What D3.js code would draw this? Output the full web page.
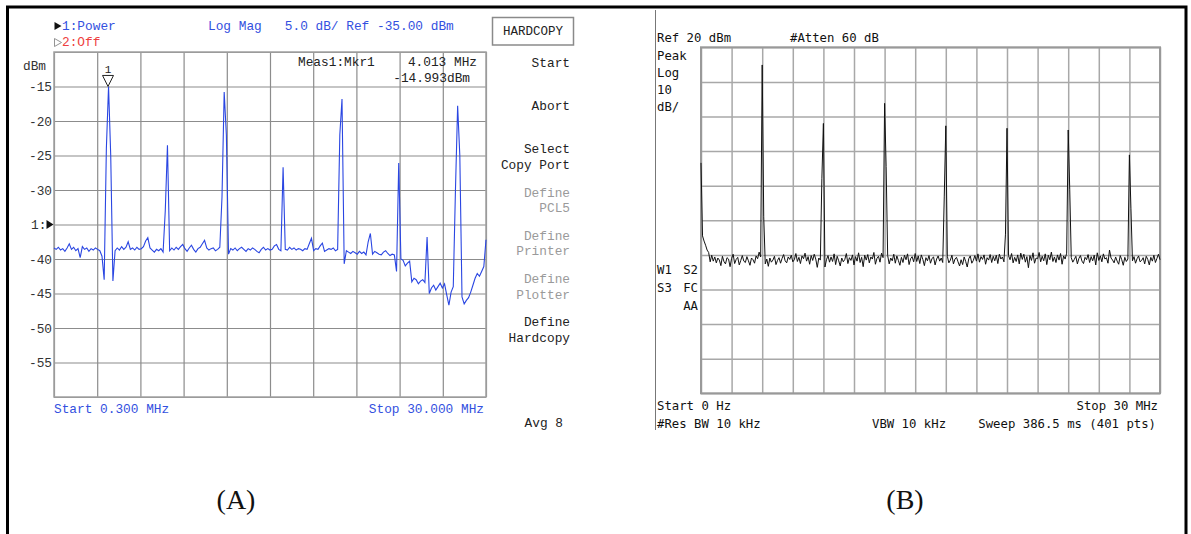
<!DOCTYPE html>
<html>
<head>
<meta charset="utf-8">
<script src="https://cdn.jsdelivr.net/npm/d3@7"></script>
<style>
  body { margin: 0; background: #fff; }
  svg { display: block; }
</style>
</head>
<body>
<div id="chart"></div>
<script>
// ---- panel A: network analyzer, 0.3 - 30 MHz, 0.15 MHz per point
const aStart = 0.3, aStop = 30, aStep = 0.15;
const aTrace = [
  -38.4, -38.6, -38.3, -38.7, -38.5, -38.9, -38.4, -37.8, -38.6, -38.3,
  -38.8, -38.5, -39.8, -38.2, -38.6, -38.4, -38.9, -38.5, -38.7, -38.4,
  -38.6, -38.8, -39.6, -43.0, -24.0, -15.0, -25.0, -43.2, -38.8, -38.4,
  -38.7, -38.2, -38.6, -38.3, -37.5, -38.6, -38.4, -38.7, -38.3, -38.6,
  -38.5, -38.2, -37.4, -36.9, -38.4, -38.7, -39.0, -38.6, -38.8, -38.5,
  -39.0, -33.0, -23.5, -38.8, -38.4, -38.7, -38.3, -38.6, -38.2, -37.9,
  -38.5, -38.9, -38.4, -38.0, -38.6, -39.0, -38.5, -38.3, -37.8, -37.3,
  -38.4, -38.7, -38.5, -38.4, -38.8, -38.6, -38.3, -31.0, -15.8, -22.0,
  -39.3, -38.5, -38.7, -38.4, -38.8, -38.5, -38.3, -38.6, -38.9, -38.5,
  -38.7, -38.4, -38.6, -38.9, -39.1, -38.6, -38.3, -38.7, -38.5, -38.7,
  -38.6, -38.1, -37.9, -38.6, -38.8, -26.7, -38.6, -38.7, -38.3, -38.6,
  -38.4, -38.7, -38.5, -38.6, -38.8, -38.5, -38.6, -37.8, -37.0, -38.8,
  -38.5, -38.6, -38.1, -37.7, -38.9, -38.7, -38.5, -38.6, -38.4, -38.8,
  -38.6, -22.0, -16.8, -40.7, -38.8, -39.0, -39.2, -38.9, -39.1, -39.3,
  -38.9, -39.2, -39.0, -39.4, -37.5, -36.3, -39.3, -38.9, -39.1, -39.3,
  -39.4, -39.0, -38.8, -39.2, -39.5, -39.3, -39.4, -41.8, -26.1, -40.0,
  -40.2, -41.0, -40.6, -40.3, -43.3, -42.8, -43.0, -43.6, -43.2, -43.0,
  -43.4, -36.8, -45.0, -44.2, -43.8, -44.5, -44.0, -43.5, -44.2, -43.6,
  -45.2, -46.7, -44.8, -44.0, -30.0, -17.8, -25.0, -45.5, -46.5, -46.0,
  -45.6, -44.8, -43.8, -42.8, -42.1, -42.5, -41.8, -41.1, -37.2
];
const aYTicks = [-15, -20, -25, -30, -35, -40, -45, -50, -55];
const aRefLevel = -35;
const aMarkerFreq = 4.013, aMarkerLevel = -14.993;
const aSoftkeys = [["Start"], ["Abort"], ["Select", "Copy Port"], ["Define", "PCL5"],
                   ["Define", "Printer"], ["Define", "Plotter"], ["Define", "Hardcopy"]];
const aSoftkeyOn = [true, true, true, false, false, false, true];

// ---- panel B: spectrum analyzer, 0 - 30 MHz, 0.1 MHz per point
const bStart = 0, bStop = 30, bStep = 0.1;
const bTrace = [
  -13.4, -34.5, -36.0, -37.2, -38.6, -39.3, -42.0, -40.1, -41.8, -40.6,
  -42.3, -40.9, -41.5, -43.1, -40.4, -41.9, -42.6, -40.8, -41.2, -43.4,
  -41.0, -39.8, -42.5, -41.3, -40.7, -42.9, -41.6, -40.2, -41.8, -42.2,
  -40.5, -41.7, -43.0, -40.9, -41.4, -42.4, -40.3, -41.1, -39.2, -40.6,
   14.9, -29.0, -42.6, -41.2, -43.3, -40.9, -42.1, -41.5, -40.4, -42.8,
  -41.6, -40.8, -42.4, -41.0, -39.9, -41.7, -42.3, -40.6, -41.3, -40.1,
  -42.0, -41.4, -39.6, -41.9, -40.7, -42.5, -40.3, -41.1, -39.5, -41.8,
  -40.5, -42.7, -40.2, -41.6, -39.8, -41.2, -43.6, -40.9, -41.5, -18.0,
   -2.0, -43.5, -41.4, -40.2, -42.1, -40.6, -41.9, -39.7, -42.8, -40.4,
  -41.7, -43.2, -40.9, -42.0, -41.3, -39.6, -42.5, -40.8, -41.6, -40.0,
  -42.9, -40.5, -41.8, -39.4, -42.2, -40.7, -43.4, -40.1, -41.5, -39.9,
  -42.3, -40.6, -41.2, -39.3, -42.7, -41.0, -40.4, -42.1, -39.5, -40.8,
    3.8, -14.5, -40.2, -42.6, -40.9, -41.7, -39.8, -42.4, -40.3, -41.6,
  -43.0, -40.7, -42.2, -40.1, -41.4, -39.7, -42.8, -41.1, -40.5, -42.0,
  -39.6, -41.9, -40.3, -42.5, -40.0, -41.3, -43.1, -40.8, -41.7, -40.2,
  -42.4, -41.0, -40.6, -42.9, -41.2, -40.3, -41.8, -40.9, -42.2, -23.0,
   -2.7, -40.4, -42.3, -41.5, -40.1, -42.6, -41.2, -40.7, -42.0, -43.2,
  -41.4, -42.8, -40.6, -41.9, -43.5, -41.1, -40.3, -42.4, -41.6, -40.2,
  -41.8, -39.7, -42.1, -40.5, -41.3, -40.0, -42.7, -40.8, -41.5, -39.9,
  -42.2, -40.4, -41.7, -40.1, -42.5, -39.8, -41.2, -40.6, -42.0, -34.0,
   -3.4, -40.2, -41.4, -39.6, -42.3, -40.7, -41.9, -40.0, -42.6, -39.5,
  -41.3, -39.8, -42.1, -40.5, -43.7, -40.2, -41.6, -39.4, -42.4, -40.9,
  -41.1, -39.3, -42.0, -40.4, -41.7, -39.7, -42.8, -40.1, -41.4, -39.2,
  -41.9, -40.6, -42.2, -40.0, -41.5, -39.6, -42.7, -40.3, -41.2, -39.5,
   -3.9, -21.0, -40.8, -42.1, -41.3, -40.4, -42.6, -41.0, -40.2, -41.8,
  -42.5, -40.7, -41.4, -39.9, -42.2, -40.5, -41.7, -40.1, -42.9, -39.4,
  -41.6, -40.3, -42.0, -39.7, -41.2, -40.8, -42.4, -38.6, -40.9, -41.5,
  -42.3, -40.6, -41.8, -42.7, -40.2, -41.4, -43.0, -40.7, -41.9, -41.2,
  -11.1, -26.5, -41.7, -40.5, -42.4, -41.1, -40.3, -42.0, -41.6, -40.8,
  -42.6, -40.4, -41.3, -42.9, -40.7, -41.8, -40.1, -42.2, -41.0, -39.8,
  -41.4
];
const bRefLevel = 20, bDbPerDiv = 10;

const W = 1191, H = 534;
const svg = d3.select("#chart").append("svg")
  .attr("width", W).attr("height", H)
  .attr("viewBox", [0, 0, W, H]);

const monoA = "'Liberation Mono', 'DejaVu Sans Mono', monospace";
const monoB = "'DejaVu Sans Mono', monospace";
const blue = "#3350e0", red = "#ee4040";

// outer frame (open at the bottom)
svg.append("path")
  .attr("d", `M7.5,${H} V7 H1186 V${H}`)
  .attr("fill", "none").attr("stroke", "#000").attr("stroke-width", 3);

// ============ panel A ============
const xA = d3.scaleLinear([aStart, aStop], [54, 486]);
const yA = d3.scaleLinear([aRefLevel - 25, aRefLevel + 25], [397, 52]);
let a = svg.append("g");

// grid
a.append("g")
  .attr("transform", `translate(0,${yA.range()[0]})`)
  .call(d3.axisBottom(xA)
    .tickValues(d3.range(11).map(k => aStart + k * (aStop - aStart) / 10))
    .tickSize(-(yA.range()[0] - yA.range()[1])).tickFormat(""))
  .call(g => g.select(".domain").remove())
  .call(g => g.selectAll("line").attr("stroke", "#8c8c8c").attr("stroke-width", 1.2));
a.append("g")
  .attr("transform", `translate(${xA.range()[0]},0)`)
  .call(d3.axisLeft(yA).tickValues(d3.range(-60, -9, 5))
    .tickSize(-(xA.range()[1] - xA.range()[0])).tickFormat(""))
  .call(g => g.select(".domain").remove())
  .call(g => g.selectAll("line").attr("stroke", "#8c8c8c").attr("stroke-width", 1.2));
a.append("rect")
  .attr("x", xA.range()[0]).attr("y", yA.range()[1])
  .attr("width", xA.range()[1] - xA.range()[0]).attr("height", yA.range()[0] - yA.range()[1])
  .attr("fill", "none").attr("stroke", "#a0a0a0").attr("stroke-width", 1.5);

// y labels
a.selectAll("text.ytick")
  .data(aYTicks)
  .join("text")
  .attr("class", "ytick")
  .attr("x", 52).attr("y", d => yA(d) + 4.5)
  .attr("text-anchor", "end")
  .style("font", `12.8px ${monoA}`).attr("fill", "#333")
  .text(d => d === aRefLevel ? "" : d);
a.append("text").attr("x", 23).attr("y", 70)
  .style("font", `12.8px ${monoA}`).attr("fill", "#333").text("dBm");
// reference level pointer "1:>"
a.append("text").attr("x", 31).attr("y", yA(aRefLevel) + 4.5)
  .style("font", `12.8px ${monoA}`).attr("fill", "#333").text("1:");
a.append("path")
  .attr("d", `M46.5,${yA(aRefLevel) - 4.5} L53.5,${yA(aRefLevel)} L46.5,${yA(aRefLevel) + 4.5} Z`)
  .attr("fill", "#111");

// trace
const lineA = d3.line()
  .x((d, i) => xA(aStart + i * aStep))
  .y(d => yA(d));
a.append("path")
  .datum(aTrace)
  .attr("d", lineA)
  .attr("fill", "none").attr("stroke", "#2a46e2").attr("stroke-width", 1.1);

// marker 1
const mx = xA(aMarkerFreq), my = yA(aMarkerLevel);
a.append("path")
  .attr("d", `M${mx - 5.5},${my - 11} H${mx + 5.5} L${mx},${my} Z`)
  .attr("fill", "#fff").attr("stroke", "#222").attr("stroke-width", 1);
a.append("text").attr("x", mx).attr("y", my - 13.5).attr("text-anchor", "middle")
  .style("font", `11px ${monoA}`).attr("fill", "#222").text("1");

// header
a.append("path").attr("d", "M54.5,22 L61.5,26 L54.5,30 Z").attr("fill", "#111");
a.append("text").attr("x", 62).attr("y", 30)
  .style("font", `12.8px ${monoA}`).attr("fill", blue).text("1:Power");
a.append("path").attr("d", "M54.5,38.5 L61.5,42.5 L54.5,46.5 Z")
  .attr("fill", "none").attr("stroke", "#888").attr("stroke-width", 0.9);
a.append("text").attr("x", 62).attr("y", 46)
  .style("font", `12.8px ${monoA}`).attr("fill", red).text("2:Off");
a.append("text").attr("x", 208).attr("y", 30).attr("xml:space", "preserve")
  .style("font", `12.8px ${monoA}`).style("white-space", "pre").attr("fill", blue)
  .text(`Log Mag   5.0 dB/ Ref ${aRefLevel.toFixed(2)} dBm`);

// marker readout
a.append("text").attr("x", 298).attr("y", 66)
  .style("font", `12.8px ${monoA}`).attr("fill", "#222").text("Meas1:Mkr1");
a.append("text").attr("x", 477).attr("y", 66).attr("text-anchor", "end")
  .style("font", `12.8px ${monoA}`).attr("fill", "#222").text(`${aMarkerFreq.toFixed(3)} MHz`);
a.append("text").attr("x", 470).attr("y", 82).attr("text-anchor", "end")
  .style("font", `12.8px ${monoA}`).attr("fill", "#222").text(`${aMarkerLevel.toFixed(3)}dBm`);

// start / stop
a.append("text").attr("x", 54).attr("y", 413)
  .style("font", `12.8px ${monoA}`).attr("fill", blue).text(`Start ${aStart.toFixed(3)} MHz`);
a.append("text").attr("x", 484).attr("y", 413).attr("text-anchor", "end")
  .style("font", `12.8px ${monoA}`).attr("fill", blue).text(`Stop ${aStop.toFixed(3)} MHz`);

// softkey panel
a.append("rect").attr("x", 492.5).attr("y", 17.5).attr("width", 81).attr("height", 27.5)
  .attr("fill", "#fff").attr("stroke", "#8a8a8a").attr("stroke-width", 1.5);
a.append("text").attr("x", 533).attr("y", 35).attr("text-anchor", "middle")
  .style("font", `12.5px ${monoA}`).attr("fill", "#222").text("HARDCOPY");
aSoftkeys.forEach((lines, k) => {
  lines.forEach((t, j) => {
    a.append("text")
      .attr("x", 570).attr("y", 67 + k * 43.2 + j * 15.5)
      .attr("text-anchor", "end")
      .style("font", `12.8px ${monoA}`)
      .attr("fill", aSoftkeyOn[k] ? "#222" : "#9a9a9a")
      .text(t);
  });
});
a.append("text").attr("x", 563).attr("y", 427).attr("text-anchor", "end")
  .style("font", `12.8px ${monoA}`).attr("fill", "#222").text("Avg 8");

// ============ panel B ============
const xB = d3.scaleLinear([bStart, bStop], [701, 1160]);
const yB = d3.scaleLinear([bRefLevel - 10 * bDbPerDiv, bRefLevel], [393.3, 47.3]);
let b = svg.append("g");

b.append("line").attr("x1", 655.5).attr("x2", 655.5).attr("y1", 10).attr("y2", 430)
  .attr("stroke", "#777").attr("stroke-width", 1);

b.append("g")
  .attr("transform", `translate(0,${yB.range()[0]})`)
  .call(d3.axisBottom(xB).ticks(10).tickSize(-(yB.range()[0] - yB.range()[1])).tickFormat(""))
  .call(g => g.select(".domain").remove())
  .call(g => g.selectAll("line").attr("stroke", "#a8a8a8").attr("stroke-width", 1.5));
b.append("g")
  .attr("transform", `translate(${xB.range()[0]},0)`)
  .call(d3.axisLeft(yB).ticks(10).tickSize(-(xB.range()[1] - xB.range()[0])).tickFormat(""))
  .call(g => g.select(".domain").remove())
  .call(g => g.selectAll("line").attr("stroke", "#a8a8a8").attr("stroke-width", 1.5));
b.append("rect")
  .attr("x", xB.range()[0]).attr("y", yB.range()[1])
  .attr("width", xB.range()[1] - xB.range()[0]).attr("height", yB.range()[0] - yB.range()[1])
  .attr("fill", "none").attr("stroke", "#999").attr("stroke-width", 2);

const lineB = d3.line()
  .x((d, i) => xB(bStart + i * bStep))
  .y(d => yB(d));
b.append("path")
  .datum(bTrace)
  .attr("d", lineB)
  .attr("fill", "none").attr("stroke", "#111").attr("stroke-width", 1);

const tB = (x, y, s, anchor) => b.append("text")
  .attr("x", x).attr("y", y).attr("text-anchor", anchor || "start")
  .style("font", `12.3px ${monoB}`).style("white-space", "pre").attr("fill", "#111").text(s);

tB(657, 42, `Ref ${bRefLevel} dBm`);
tB(790, 42, "#Atten 60 dB");
tB(657, 60, "Peak");
tB(657, 77, "Log");
tB(657, 94, `${bDbPerDiv}`);
tB(657, 111, "dB/");
tB(657, 274, "W1");
tB(698, 274, "S2", "end");
tB(657, 292, "S3");
tB(698, 292, "FC", "end");
tB(698, 310, "AA", "end");
tB(657, 410, `Start ${bStart} Hz`);
tB(1158, 410, `Stop ${bStop} MHz`, "end");
tB(657, 428, "#Res BW 10 kHz");
tB(872, 428, "VBW 10 kHz");
tB(1156, 428, "Sweep 386.5 ms (401 pts)", "end");

// panel captions
svg.append("text").attr("x", 236).attr("y", 509).attr("text-anchor", "middle")
  .style("font", "28px 'Liberation Serif', serif").attr("fill", "#111").text("(A)");
svg.append("text").attr("x", 905).attr("y", 509).attr("text-anchor", "middle")
  .style("font", "28px 'Liberation Serif', serif").attr("fill", "#111").text("(B)");
</script>
</body>
</html>
